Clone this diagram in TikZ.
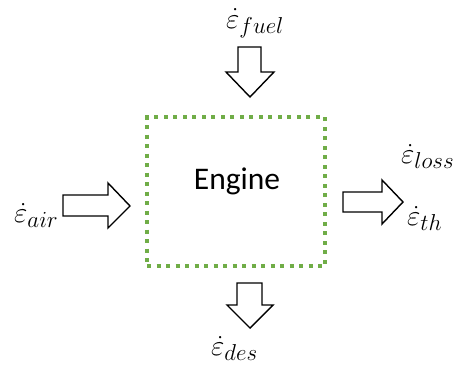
\RequirePackage{fix-cm}
\documentclass[tikz,border=0pt]{standalone}
\usepackage{fontspec}
\setmainfont{Carlito}
\usepackage{amsmath}
\DeclareMathSizes{29}{29}{23}{18}
\begin{document}
\begin{tikzpicture}[x=1pt,y=-1pt,
  blockarrow/.style={draw=black,fill=white,line width=1.4pt,line join=miter},
  enginebox/.style={draw={rgb,255:red,112;green,173;blue,71},line width=4pt,dash pattern=on 4pt off 5.5pt,minimum width=178pt,minimum height=149pt,inner sep=0pt},
  flowlabel/.style={anchor=base west,inner sep=0pt,font=\fontsize{29}{32}\selectfont},
  enginelabel/.style={inner sep=0pt,font=\fontsize{31.5}{34}\selectfont}]
\useasboundingbox (0,0) rectangle (457,367);
\node[enginebox] (engine) at (236,191.5) {};
\node[enginelabel] (enginetext) at (237,181) {Engine};
% fuel arrow (down)
\draw[blockarrow] (238,47) -- (261,47) -- (261,72) -- (274,72) -- (250,97) -- (226,72) -- (238,72) -- cycle;
% des arrow (down)
\draw[blockarrow] (237,283) -- (262,283) -- (262,305) -- (273,305) -- (250,328) -- (227,305) -- (237,305) -- cycle;
% air arrow (right)
\draw[blockarrow] (63,195) -- (108,195) -- (108,183) -- (130,206) -- (108,228) -- (108,216) -- (63,216) -- cycle;
% out arrow (right)
\draw[blockarrow] (343,192) -- (382,192) -- (382,180) -- (403,202) -- (382,224) -- (382,212) -- (343,212) -- cycle;
\node[flowlabel] (fuel) at (226,28) {$\dot{\varepsilon}_{fuel}$};
\node[flowlabel] (air) at (14,222) {$\dot{\varepsilon}_{air}$};
\node[flowlabel] (loss) at (401,163) {$\dot{\varepsilon}_{loss}$};
\node[flowlabel] (th) at (407,225) {$\dot{\varepsilon}_{th}$};
\node[flowlabel] (des) at (211,355) {$\dot{\varepsilon}_{des}$};
\end{tikzpicture}
\end{document}
